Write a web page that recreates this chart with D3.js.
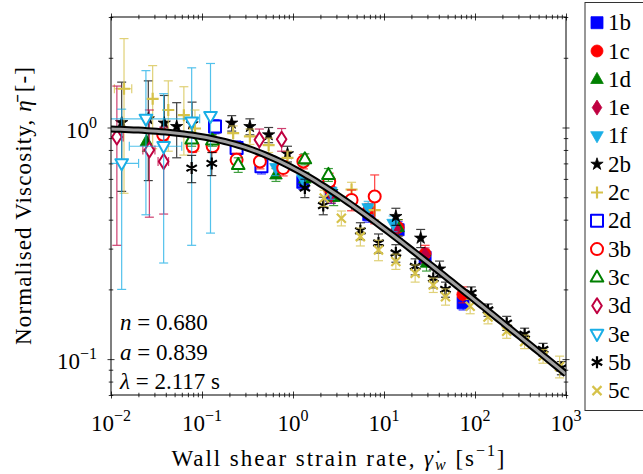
<!DOCTYPE html>
<html>
<head>
<meta charset="utf-8">
<script src="https://cdn.jsdelivr.net/npm/d3@7"></script>
<style>
  body { margin: 0; background: #fff; }
  svg { display: block; }
  text { font-family: "Liberation Serif", "Times New Roman", serif; fill: #000; }
</style>
</head>
<body>
<div id="chart"></div>
<script>
// fit parameters (Carreau-Yasuda), as printed on the chart
var nFit = 0.680, aFit = 0.839, lambdaFit = 2.117;

// series data: [shear rate, normalised viscosity, y error, (x error)]
var s1b = [[1.28,0.58,0.04],[2.63,0.51,0.04],[6.8,0.42,0.03],[14.3,0.362,0.03],[28.3,0.275,0.02],[74,0.175,0.012]];
var s1c = [[2.5,0.545,0.04],[6.8,0.44,0.03],[14.3,0.37,0.03],[28.3,0.285,0.025],[73.5,0.19,0.015]];
var s1d = [[0.0245,0.87,0.08],[0.077,0.885,0.07],[0.65,0.625,0.04],[1.35,0.6,0.04],[2.8,0.5,0.04],[14.3,0.37,0.03],[29.3,0.26,0.02]];
var s1e = [[2.63,0.512,0.04],[13.5,0.365,0.03],[28.3,0.282,0.02]];
var s1f = [[0.65,0.67,0.05],[1.28,0.6,0.04],[2.6,0.53,0.04],[6.7,0.45,0.03],[12.6,0.385,0.03]];
var s2b = [[0.0131,1.05,0.52],[0.0257,1.09,0.5],[0.0385,1.045,0.33],[0.0527,1.01,0.27],[0.0778,1.037,0.25],
           [0.212,1.045,0.08],[0.336,1.01,0.08],[0.54,0.93,0.07],[0.87,0.77,0.06],[13.5,0.413,0.035],[25.3,0.333,0.03],[40.8,0.245,0.02]];
var s2c = [[0.0139,1.47,0.95,0.003],[0.0287,1.33,0.52],[0.0426,1.19,0.4],[0.0632,1.13,0.37],[0.0837,0.99,0.2],[0.139,0.95,0.1],
           [0.22,0.946,0.07],[0.336,0.915,0.07],[0.54,0.84,0.06],[0.87,0.74,0.05],[4.4,0.54,0.04],[7.9,0.44,0.04]];
var s2d = [[0.139,1.01,0.07],[0.24,0.815,0.06],[0.45,0.68,0.05]];
var s3b = [[0.0375,0.93,0.05],[0.079,0.83,0.05],[0.131,0.83,0.05],[0.24,0.725,0.05],[0.433,0.713,0.05],[0.78,0.668,0.05],
           [1.3,0.713,0.05],[2.5,0.585,0.05],[4.4,0.487,0.05],[7.9,0.504,0.12]];
var s3c = [[0.077,0.89,0.06],[0.13,0.88,0.05],[0.25,0.69,0.05],[1.35,0.73,0.04],[2.45,0.625,0.04]];
var s3d = [[0.0116,0.91,0.6,0.002],[0.0264,0.80,0.39,0.004],[0.0379,0.713,0.29,0.005],[0.427,0.885,0.1],[0.75,0.89,0.1]];
var s3e = [[0.0131,0.70,0.5,0.007],[0.0242,1.09,0.67,0.07],[0.0379,0.83,0.57,0.022],[0.077,1.06,0.75],[0.124,1.12,0.77]];
var s5b = [[0.077,0.668,0.09],[0.128,0.70,0.08],[1.35,0.548,0.05],[2.15,0.46,0.04],[5.5,0.358,0.03],[8.7,0.317,0.03],
           [13.5,0.287,0.025],[22,0.251,0.02],[34.8,0.223,0.02],[47.4,0.2,0.015],[91,0.193,0.012],[139,0.163,0.01],
           [223,0.143,0.01],[351,0.128,0.008],[560,0.11,0.007],[890,0.0916,0.006]];
var s5c = [[2.2,0.496,0.04],[3.4,0.406,0.03],[5.5,0.338,0.03],[8.7,0.296,0.03],[13.5,0.264,0.02],[22,0.235,0.02],
           [34.8,0.209,0.015],[47.4,0.186,0.015],[88.5,0.169,0.012],[139,0.152,0.01],[223,0.132,0.009],[351,0.119,0.008],
           [560,0.103,0.007],[850,0.093,0.01]];

var seriesNames = ["1b","1c","1d","1e","1f","2b","2c","2d","3b","3c","3d","3e","5b","5c"];
var seriesData  = [s1b,s1c,s1d,s1e,s1f,s2b,s2c,s2d,s3b,s3c,s3d,s3e,s5b,s5c];

var xMajor = [1e-2,1e-1,1e0,1e1,1e2,1e3];
var xExp = ["−2","−1","0","1","2","3"];
var yMajor = [1e-1,1e0];
var yExp = ["−1","0"];

// styles
var blue = "#0000ff", red = "#ff0000", green = "#008000", purple = "#bf0040", cyan = "#1aaee6", black = "#000", yellow = "#d6c24a";
var styles = {
  "1b": {c: blue, m: "square", fill: true},
  "1c": {c: red, m: "circle", fill: true},
  "1d": {c: green, m: "triup", fill: true},
  "1e": {c: purple, m: "diamond", fill: true},
  "1f": {c: cyan, m: "tridown", fill: true},
  "2b": {c: black, m: "star", fill: true},
  "2c": {c: yellow, m: "plus", fill: true},
  "2d": {c: blue, m: "square", fill: false},
  "3b": {c: red, m: "circle", fill: false},
  "3c": {c: green, m: "triup", fill: false},
  "3d": {c: purple, m: "diamond", fill: false},
  "3e": {c: cyan, m: "tridown", fill: false},
  "5b": {c: black, m: "asterisk", fill: true},
  "5c": {c: yellow, m: "cross", fill: true}
};

var width = 643, height = 474;
var pL = 111, pR = 566, pT = 17, pB = 395;

var svg = d3.select("#chart").append("svg")
  .attr("width", width).attr("height", height)
  .attr("font-family", "Liberation Serif, serif");

var x = d3.scaleLog().domain([1e-2, 1e3]).range([pL, pR]);
var y = d3.scaleLog().domain([0.07, 3]).range([pB, pT]);

svg.append("clipPath").attr("id", "plotclip")
  .append("rect").attr("x", pL).attr("y", pT).attr("width", pR - pL).attr("height", pB - pT);

// ticks on all four sides, centered on the frame
function minorTicks(scale) {
  var d = scale.domain(), out = [];
  var lo = Math.floor(Math.log10(d[0])), hi = Math.ceil(Math.log10(d[1]));
  for (var e = lo; e < hi; e++) {
    for (var k = 2; k <= 9; k++) {
      var v = k * Math.pow(10, e);
      if (v >= d[0] * 0.999 && v <= d[1] * 1.001) out.push(v);
    }
  }
  return out;
}
var majLen = 7, minLen = 4.5;
function tickGroup(axis, tx, ty) {
  var g = svg.append("g").attr("transform", "translate(" + tx + "," + ty + ")").call(axis);
  g.select(".domain").remove();
  g.selectAll("line").attr("stroke", "#000").attr("stroke-width", 0.8);
  g.selectAll("text").remove();
}
[[xMajor, majLen], [minorTicks(x), minLen]].forEach(function(t) {
  tickGroup(d3.axisTop(x).tickValues(t[0]).tickSize(t[1]), 0, pB + t[1] / 2);
  tickGroup(d3.axisTop(x).tickValues(t[0]).tickSize(t[1]), 0, pT + t[1] / 2);
});
[[yMajor, majLen], [minorTicks(y), minLen]].forEach(function(t) {
  tickGroup(d3.axisRight(y).tickValues(t[0]).tickSize(t[1]), pL - t[1] / 2, 0);
  tickGroup(d3.axisRight(y).tickValues(t[0]).tickSize(t[1]), pR - t[1] / 2, 0);
});

// tick labels
xMajor.forEach(function(v, i) {
  var t = svg.append("text").attr("x", x(v)).attr("y", 431).attr("text-anchor", "middle").style("font-size", "23px");
  t.append("tspan").text("10");
  t.append("tspan").attr("dy", -10).style("font-size", "16px").text(xExp[i]);
});
yMajor.forEach(function(v, i) {
  var t = svg.append("text").attr("x", 97).attr("y", y(v) + 10).attr("text-anchor", "end").style("font-size", "23px");
  t.append("tspan").text("10");
  t.append("tspan").attr("dy", -10).style("font-size", "16px").text(yExp[i]);
});

// data
var plot = svg.append("g").attr("clip-path", "url(#plotclip)");
var capW = 4.5, markR = 6;

function markerPath(m, r) {
  if (m === "star") return d3.symbol(d3.symbolStar, r * r * 1.3)();
  var p = d3.path();
  if (m === "square") { p.rect(-r, -r, 2 * r, 2 * r); }
  else if (m === "circle") { p.arc(0, 0, r, 0, 2 * Math.PI); p.closePath(); }
  else if (m === "triup") { p.moveTo(0, -r * 1.15); p.lineTo(r * 1.05, r * 0.7); p.lineTo(-r * 1.05, r * 0.7); p.closePath(); }
  else if (m === "tridown") { p.moveTo(0, r * 1.15); p.lineTo(r * 1.05, -r * 0.7); p.lineTo(-r * 1.05, -r * 0.7); p.closePath(); }
  else if (m === "diamond") { p.moveTo(0, -r * 1.25); p.lineTo(r * 0.8, 0); p.lineTo(0, r * 1.25); p.lineTo(-r * 0.8, 0); p.closePath(); }
  else if (m === "plus") { p.moveTo(-r, 0); p.lineTo(r, 0); p.moveTo(0, -r); p.lineTo(0, r); }
  else if (m === "cross") { var q = r * 0.75; p.moveTo(-q, -q); p.lineTo(q, q); p.moveTo(-q, q); p.lineTo(q, -q); }
  else if (m === "asterisk") {
    for (var k = 0; k < 6; k++) {
      var a = -Math.PI / 2 + k * Math.PI / 3;
      p.moveTo(0, 0); p.lineTo(r * Math.cos(a), r * Math.sin(a));
    }
  }
  return p.toString();
}
function drawMarker(g, st, r) {
  var lineMark = ["plus", "cross", "asterisk"].indexOf(st.m) >= 0;
  g.append("path").attr("d", markerPath(st.m, r))
    .attr("fill", lineMark ? "none" : (st.fill ? st.c : "#fff"))
    .attr("stroke", st.c)
    .attr("stroke-linejoin", "round")
    .attr("stroke-width", lineMark ? 2.2 : (st.fill ? 0.8 : 2));
}

seriesNames.forEach(function(name, si) {
  var st = styles[name];
  var g = plot.append("g");
  var pts = seriesData[si];
  // error bars
  pts.forEach(function(d) {
    var lo = d[1] - d[2] > 0 ? d[1] - d[2] : 0.01, hi = d[1] + d[2];
    var cx = x(d[0]);
    var eb = g.append("g").attr("stroke", st.c).attr("stroke-width", 1.2).attr("opacity", 0.75).attr("fill", "none");
    eb.append("line").attr("x1", cx).attr("x2", cx).attr("y1", y(lo)).attr("y2", y(hi));
    eb.append("line").attr("x1", cx - capW).attr("x2", cx + capW).attr("y1", y(lo)).attr("y2", y(lo));
    eb.append("line").attr("x1", cx - capW).attr("x2", cx + capW).attr("y1", y(hi)).attr("y2", y(hi));
    if (d[3]) {
      var xl = d[0] - d[3] > 0 ? d[0] - d[3] : 1e-3, xh = d[0] + d[3];
      var cy = y(d[1]);
      eb.append("line").attr("x1", x(xl)).attr("x2", x(xh)).attr("y1", cy).attr("y2", cy);
      eb.append("line").attr("x1", x(xl)).attr("x2", x(xl)).attr("y1", cy - capW).attr("y2", cy + capW);
      eb.append("line").attr("x1", x(xh)).attr("x2", x(xh)).attr("y1", cy - capW).attr("y2", cy + capW);
    }
  });
  pts.forEach(function(d) {
    var mg = g.append("g").attr("transform", "translate(" + x(d[0]) + "," + y(d[1]) + ")");
    drawMarker(mg, st, markR);
  });
});

// fitted Carreau-Yasuda curve from the printed parameters
var fitX = d3.range(0, 101).map(function(i) { return Math.pow(10, -2 + 5 * i / 100); });
var fitLine = d3.line()
  .x(function(g) { return x(g); })
  .y(function(g) { return y(Math.pow(1 + Math.pow(lambdaFit * g, aFit), (nFit - 1) / aFit)); });
plot.append("path").datum(fitX).attr("d", fitLine).attr("fill", "none").attr("stroke", "#000").attr("stroke-width", 7);
plot.append("path").datum(fitX).attr("d", fitLine).attr("fill", "none").attr("stroke", "#a0a0a0").attr("stroke-width", 3);

// frame
svg.append("rect").attr("x", pL).attr("y", pT).attr("width", pR - pL).attr("height", pB - pT)
  .attr("fill", "none").attr("stroke", "#000").attr("stroke-width", 1);

// parameter annotation
var annot = [["n", " = 0.680"], ["a", " = 0.839"], ["λ", " = 2.117 s"]];
annot.forEach(function(a, i) {
  var t = svg.append("text").attr("x", 120).attr("y", 330 + i * 29.5).style("font-size", "23px");
  t.append("tspan").style("font-style", "italic").text(a[0]);
  t.append("tspan").text(a[1]);
});

// axis labels
var xl = svg.append("text").attr("x", 338).attr("y", 466).attr("text-anchor", "middle")
  .attr("textLength", 333).attr("lengthAdjust", "spacing").style("font-size", "23px");
xl.append("tspan").text("Wall shear strain rate, ");
xl.append("tspan").style("font-style", "italic").text("γ\u0307");
xl.append("tspan").style("font-style", "italic").style("font-size", "16px").attr("dy", 4).text("w");
xl.append("tspan").attr("dy", -4).text(" [s");
xl.append("tspan").style("font-size", "16px").attr("dy", -10).text("−1");
xl.append("tspan").attr("dy", 10).text("]");

var yl = svg.append("text").attr("transform", "translate(31,206) rotate(-90)").attr("text-anchor", "middle")
  .attr("textLength", 278).attr("lengthAdjust", "spacing").style("font-size", "23px");
yl.append("tspan").text("Normalised Viscosity, ");
yl.append("tspan").style("font-style", "italic").text("η\u0304");
yl.append("tspan").text(" [-]");

// legend
svg.append("rect").attr("x", 585).attr("y", 2.5).attr("width", 70).attr("height", 408)
  .attr("fill", "#fff").attr("stroke", "#333").attr("stroke-width", 1);
seriesNames.forEach(function(name, i) {
  var cy = 22.7 + i * 28.3;
  var mg = svg.append("g").attr("transform", "translate(597," + cy + ")");
  drawMarker(mg, styles[name], 6);
  svg.append("text").attr("x", 608).attr("y", cy + 7.5).style("font-size", "23px").text(name);
});
</script>
</body>
</html>
